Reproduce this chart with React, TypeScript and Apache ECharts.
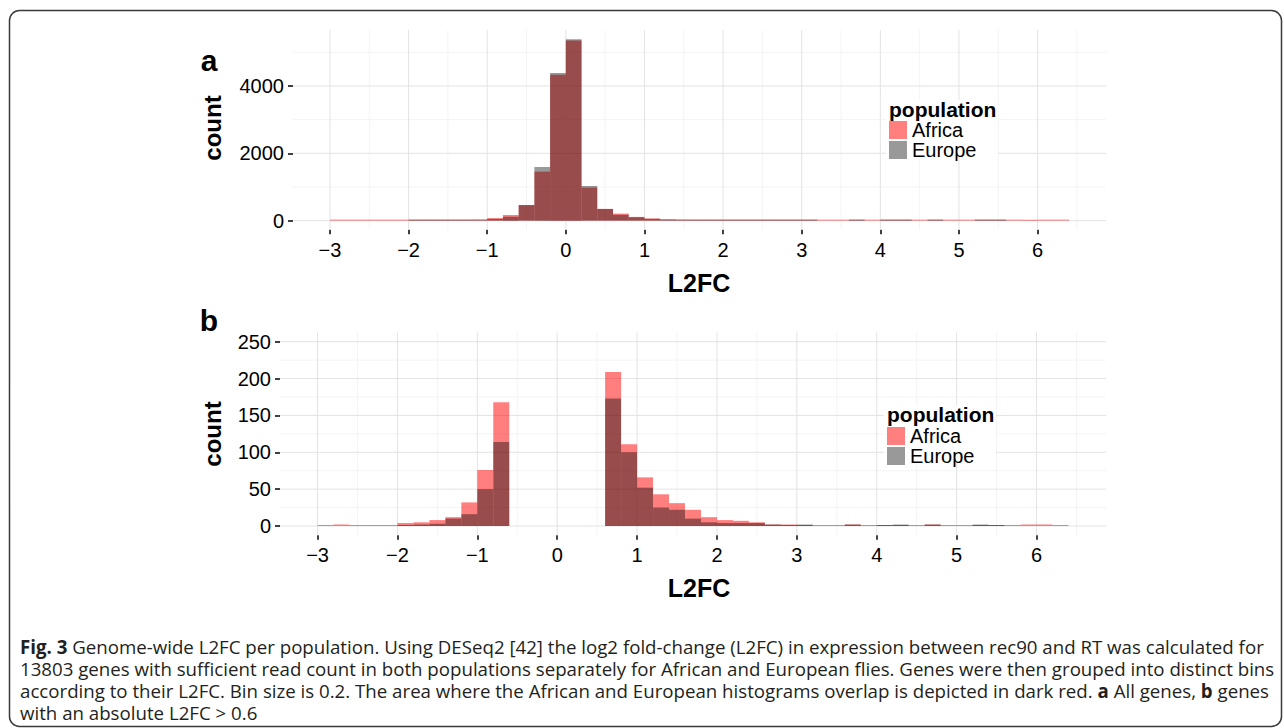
import React, { useEffect, useRef } from 'react';
import * as echarts from 'echarts';

// Histogram bins: width 0.2, first bin starts at -3.0 (47 bins up to 6.4)
const BIN_START = -3.0;
const BIN_WIDTH = 0.2;

// Panel a: all genes
const africaAll = [1, 2, 1, 1, 1, 4, 5, 8, 12, 32, 76, 168, 465, 1455, 4335, 5350, 980, 350, 209, 111, 66, 43, 31, 22, 12, 8, 7, 5, 2, 2, 1, 1, 1, 2, 1, 1, 1, 1, 2, 1, 1, 1, 1, 1, 2, 2, 1];
const europeAll = [0, 0, 0, 0, 0, 1, 2, 3, 10, 16, 50, 114, 460, 1595, 4385, 5390, 1030, 345, 173, 100, 52, 25, 22, 10, 5, 4, 4, 4, 2, 1, 2, 0, 0, 2, 0, 1, 2, 0, 2, 0, 0, 2, 1, 0, 0, 0, 0];
// Panel b: genes with |L2FC| > 0.6
const africaAbs = [1, 2, 1, 1, 1, 4, 5, 8, 12, 32, 76, 168, 0, 0, 0, 0, 0, 0, 209, 111, 66, 43, 31, 22, 12, 8, 7, 5, 2, 2, 1, 1, 1, 2, 1, 1, 1, 1, 2, 1, 1, 1, 1, 1, 2, 2, 1];
const europeAbs = [0, 0, 0, 0, 0, 1, 2, 3, 10, 16, 50, 114, 0, 0, 0, 0, 0, 0, 173, 100, 52, 25, 22, 10, 5, 4, 4, 4, 2, 1, 2, 0, 0, 2, 0, 1, 2, 0, 2, 0, 0, 2, 1, 0, 0, 0, 0];

const xTicks = [-3, -2, -1, 0, 1, 2, 3, 4, 5, 6];
const xMinor = [-2.5, -1.5, -0.5, 0.5, 1.5, 2.5, 3.5, 4.5, 5.5, 6.5];
const yTicksA = [0, 2000, 4000];
const yMinorA = [1000, 3000, 5000];
const yTicksB = [0, 50, 100, 150, 200, 250];
const yMinorB = [25, 75, 125, 175, 225];

const X_MIN = -3.47;
const X_MAX = 6.87;
const Y_A = [-269.5, 5659.5];
const Y_B = [-12.5, 262.5];

const captionLines = [
  '{b|Fig. 3} Genome-wide L2FC per population. Using DESeq2 [42] the log2 fold-change (L2FC) in expression between rec90 and RT was calculated for',
  '13803 genes with sufficient read count in both populations separately for African and European flies. Genes were then grouped into distinct bins',
  'according to their L2FC. Bin size is 0.2. The area where the African and European histograms overlap is depicted in dark red. {b|a} All genes, {b|b} genes',
  'with an absolute L2FC > 0.6',
];

const FONT = '"Liberation Sans", Arial, Helvetica, sans-serif';
const CAP_FAMILY = 'Open Sans';
const CAP_FONT = '"Open Sans", "Noto Sans", sans-serif';
const AFRICA = 'rgba(255,0,0,0.5)';
const EUROPE = 'rgba(0,0,0,0.4)';
const GRID_MAJOR = '#E3E3E3';
const GRID_MINOR = '#F4F4F4';

const toRows = (vals: number[]) =>
  vals.map((v, i) => {
    const x0 = +(BIN_START + i * BIN_WIDTH).toFixed(1);
    return [x0, +(x0 + BIN_WIDTH).toFixed(1), v];
  });

const barRender = (fill: string) => (params: any, api: any) => {
  const x0 = api.value(0);
  const x1 = api.value(1);
  const c = api.value(2);
  if (!(c > 0)) return null;
  const pTop = api.coord([x0, c]);
  const pBase = api.coord([x1, 0]);
  const h = Math.max(pBase[1] - pTop[1], 1);
  return {
    type: 'rect',
    shape: { x: pTop[0], y: pBase[1] - h, width: pBase[0] - pTop[0], height: h },
    style: { fill },
  };
};

const vLine = (stroke: string, w: number) => (params: any, api: any) => {
  const cs = params.coordSys;
  const x = api.coord([api.value(0), 0])[0];
  return { type: 'line', shape: { x1: x, y1: cs.y, x2: x, y2: cs.y + cs.height }, style: { stroke, lineWidth: w } };
};
const hLine = (stroke: string, w: number) => (params: any, api: any) => {
  const cs = params.coordSys;
  const y = api.coord([0, api.value(1)])[1];
  return { type: 'line', shape: { x1: cs.x, y1: y, x2: cs.x + cs.width, y2: y }, style: { stroke, lineWidth: w } };
};

const fmtX = (v: number) => (v < 0 ? '\u2212' + Math.abs(v) : String(v));
const fmtY = (v: number) => String(v);

function gridSeries(idx: number, yMajor: number[], yMinor: number[]) {
  const base = { type: 'custom', xAxisIndex: idx, yAxisIndex: idx, silent: true, z: 1, encode: { x: 0, y: 1 } };
  return [
    { ...base, name: 'vminor' + idx, renderItem: vLine(GRID_MINOR, 1), data: xMinor.map((v) => [v, 0]) },
    { ...base, name: 'hminor' + idx, renderItem: hLine(GRID_MINOR, 1), data: yMinor.map((v) => [0, v]) },
    { ...base, name: 'vmajor' + idx, renderItem: vLine(GRID_MAJOR, 1), data: xTicks.map((v) => [v, 0]) },
    { ...base, name: 'hmajor' + idx, renderItem: hLine(GRID_MAJOR, 1), data: yMajor.map((v) => [0, v]) },
  ];
}

function xAxisCfg(idx: number) {
  return {
    gridIndex: idx,
    type: 'value',
    min: X_MIN,
    max: X_MAX,
    axisLine: { show: false, onZero: false },
    splitLine: { show: false },
    axisTick: { show: true, customValues: xTicks, length: 4.5, lineStyle: { color: '#000', width: 1.5 } },
    axisLabel: { customValues: xTicks, formatter: fmtX, fontSize: 20, color: '#000', fontFamily: FONT, margin: 10 },
  };
}
function yAxisCfg(idx: number, ext: number[], ticks: number[]) {
  return {
    gridIndex: idx,
    type: 'value',
    min: ext[0],
    max: ext[1],
    axisLine: { show: false, onZero: false },
    splitLine: { show: false },
    axisTick: { show: true, customValues: ticks, length: 5, lineStyle: { color: '#000', width: 1.5 } },
    axisLabel: { customValues: ticks, formatter: fmtY, fontSize: 20, color: '#000', fontFamily: FONT, margin: 9 },
  };
}

function legendCfg(left: number, top: number) {
  return {
    data: [
      { name: 'Africa', icon: 'rect', itemStyle: { color: AFRICA } },
      { name: 'Europe', icon: 'rect', itemStyle: { color: EUROPE } },
    ],
    orient: 'vertical',
    left,
    top,
    z: 8,
    padding: 0,
    itemWidth: 18,
    itemHeight: 18,
    itemGap: 0,
    selectedMode: false,
    textStyle: { fontSize: 20, color: '#000', fontFamily: FONT, lineHeight: 16 },
  };
}

const txt = (text: string, x: number, y: number, size: number, extra: any = {}) => ({
  type: 'text',
  x,
  y,
  z: 9,
  ...extra.el,
  style: {
    text,
    fontSize: size,
    fontWeight: 'bold',
    fontFamily: FONT,
    fill: '#000',
    align: 'center',
    verticalAlign: 'middle',
    ...extra.style,
  },
});

function measureLine(line: string, size: number) {
  const ctx = document.createElement('canvas').getContext('2d');
  if (!ctx) return 1;
  let total = 0;
  for (const p of line.split(/(\{b\|[^}]*\})/)) {
    if (!p) continue;
    const m = p.match(/^\{b\|([^}]*)\}$/);
    ctx.font = `${m ? 'bold ' : ''}${size}px "${CAP_FAMILY}"`;
    total += ctx.measureText(m ? m[1] : p).width;
  }
  return total;
}

export default function App() {
  const ref = useRef<HTMLDivElement>(null);
  useEffect(() => {
    if (!ref.current) return;
    const chart = echarts.init(ref.current, null, { renderer: 'svg' });

    const fits = [0, 1, 2].map((i) => (20 * 1255) / measureLine(captionLines[i], 20));
    let capSize = Math.min(...fits);
    if (!isFinite(capSize) || capSize < 12 || capSize > 22) capSize = 18;

    const option: any = {
      animation: false,
      backgroundColor: '#fff',
      grid: [
        { left: 293, top: 30.1, right: 178, height: 199.6 },
        { left: 280, top: 332.5, right: 178, height: 202.7 },
      ],
      xAxis: [xAxisCfg(0), xAxisCfg(1)],
      yAxis: [yAxisCfg(0, Y_A, yTicksA), yAxisCfg(1, Y_B, yTicksB)],
      legend: [legendCfg(889, 120), legendCfg(887, 426)],
      series: [
        ...gridSeries(0, yTicksA, yMinorA),
        ...gridSeries(1, yTicksB, yMinorB),
        { type: 'custom', name: 'Africa', xAxisIndex: 0, yAxisIndex: 0, z: 2, itemStyle: { color: AFRICA }, renderItem: barRender(AFRICA), data: toRows(africaAll), encode: { x: [0, 1], y: 2 } },
        { type: 'custom', name: 'Europe', xAxisIndex: 0, yAxisIndex: 0, z: 2, itemStyle: { color: EUROPE }, renderItem: barRender(EUROPE), data: toRows(europeAll), encode: { x: [0, 1], y: 2 } },
        { type: 'custom', name: 'Africa', xAxisIndex: 1, yAxisIndex: 1, z: 2, itemStyle: { color: AFRICA }, renderItem: barRender(AFRICA), data: toRows(africaAbs), encode: { x: [0, 1], y: 2 } },
        { type: 'custom', name: 'Europe', xAxisIndex: 1, yAxisIndex: 1, z: 2, itemStyle: { color: EUROPE }, renderItem: barRender(EUROPE), data: toRows(europeAbs), encode: { x: [0, 1], y: 2 } },
      ],
      graphic: [
        {
          type: 'rect',
          z: 0,
          shape: { x: 9.5, y: 10.5, width: 1272, height: 716, r: 10 },
          style: { fill: 'none', stroke: '#3a3a3a', lineWidth: 1.5 },
          silent: true,
        },
        // legend backgrounds
        { type: 'rect', z: 7, shape: { x: 886, y: 100, width: 112, height: 57 }, style: { fill: '#fff' }, silent: true },
        { type: 'rect', z: 7, shape: { x: 884, y: 405, width: 112, height: 58 }, style: { fill: '#fff' }, silent: true },
        txt('a', 209, 60, 30),
        txt('b', 209, 320, 30),
        txt('count', 212, 128, 24, { el: { rotation: Math.PI / 2 } }),
        txt('count', 212, 434, 24, { el: { rotation: Math.PI / 2 } }),
        txt('L2FC', 699, 283, 25),
        txt('L2FC', 699, 588, 25),
        txt('population', 889, 109, 21, { style: { align: 'left' } }),
        txt('population', 887, 414, 21, { style: { align: 'left' } }),
        ...captionLines.map((line, i) => ({
          type: 'text',
          x: 20,
          y: 646 + i * 22,
          z: 9,
          style: {
            text: line,
            fontSize: capSize,
            lineHeight: 20,
            fontFamily: CAP_FONT,
            fill: '#231F20',
            align: 'left',
            verticalAlign: 'middle',
            rich: { b: { fontWeight: 'bold', fontSize: capSize, lineHeight: 20, fontFamily: CAP_FONT, fill: '#231F20' } },
          },
        })),
      ],
    };
    chart.setOption(option);
    return () => chart.dispose();
  }, []);
  return <div ref={ref} style={{ position: 'absolute', left: 0, top: 0, width: 1284, height: 728 }} />;
}
